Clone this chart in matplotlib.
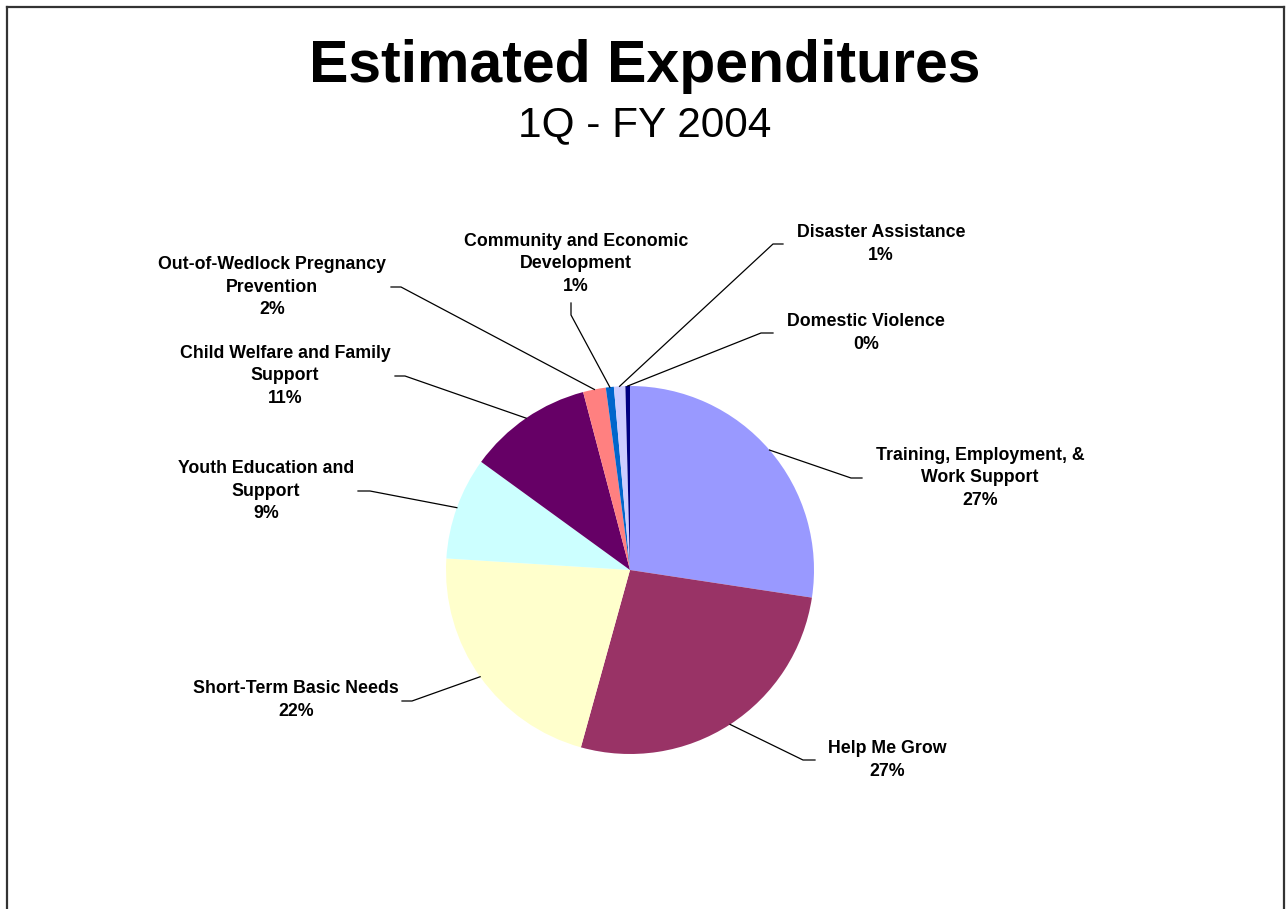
import numpy as np
import matplotlib
matplotlib.use("Agg")
import matplotlib.pyplot as plt
from matplotlib.lines import Line2D

plt.rcParams['font.family'] = ['Liberation Sans', 'DejaVu Sans']

# Data (percent of estimated expenditures)
categories = [
    "Training, Employment, &\nWork Support",
    "Help Me Grow",
    "Short-Term Basic Needs",
    "Youth Education and\nSupport",
    "Child Welfare and Family\nSupport",
    "Out-of-Wedlock Pregnancy\nPrevention",
    "Community and Economic\nDevelopment",
    "Disaster Assistance",
    "Domestic Violence",
]
values = [27.4, 26.9, 21.7, 9.0, 10.9, 2.0, 0.7, 1.0, 0.4]
colors = ["#9999FF", "#993366", "#FFFFCC", "#CCFFFF", "#660066",
          "#FF8080", "#0066CC", "#CCCCFF", "#000080"]

# label layout in pixel coords (y measured from top): text centre, elbow, end of elbow
label_pos = [
    ((980, 478), (851, 478), (862, 478)),
    ((887, 760), (803, 760), (815, 760)),
    ((296, 700), (412, 701), (402, 701)),
    ((266, 491), (370, 491), (358, 491)),
    ((285, 376), (405, 376), (395, 376)),
    ((272, 287), (401, 287), (391, 287)),
    ((576, 264), (571, 315), (571, 303)),
    ((881, 244), (773, 244), (783, 244)),
    ((866, 333), (761, 333), (773, 333)),
]

W, H = 1286, 909
cx, cy, r = 630, H - 570, 184

fig = plt.figure(figsize=(W / 100, H / 100), dpi=100)
ax = fig.add_axes([0, 0, 1, 1])

wedges, _ = ax.pie(values, colors=colors, startangle=90, counterclock=False,
                   center=(cx, cy), radius=r, wedgeprops=dict(linewidth=0),
                   frame=True)
ax.set_xlim(0, W)
ax.set_ylim(0, H)
ax.set_aspect('equal')
ax.axis('off')

total = sum(values)
for w, cat, v, (tc, el, en) in zip(wedges, categories, values, label_pos):
    mid = np.deg2rad((w.theta1 + w.theta2) / 2)
    ax_x = cx + r * np.cos(mid)
    ax_y = cy + r * np.sin(mid)
    xs = [ax_x, el[0], en[0]]
    ys = [ax_y, H - el[1], H - en[1]]
    ax.plot(xs, ys, color="black", lw=0.9)
    ax.text(tc[0], H - tc[1], f"{cat}\n{v / total * 100:.0f}%",
            ha="center", va="center", multialignment="center",
            fontsize=12.8, fontweight="bold", linespacing=1.45)

# Titles
fig.text(645 / W, 1 - 66 / H, "Estimated Expenditures", ha="center", va="center",
         fontsize=42.5, fontweight="bold")
fig.text(645 / W, 1 - 125 / H, "1Q - FY 2004", ha="center", va="center",
         fontsize=30.5)

# border of the chart area
x0, x1, yt = 7 / W, 1284 / W, 1 - 6.5 / H
for xa, ya in [([x0, x0], [0, yt]), ([x0, x1], [yt, yt]), ([x1, x1], [yt, 0])]:
    fig.add_artist(Line2D(xa, ya, color="#333333", lw=1.6))

fig.savefig("out.png", dpi=100)
